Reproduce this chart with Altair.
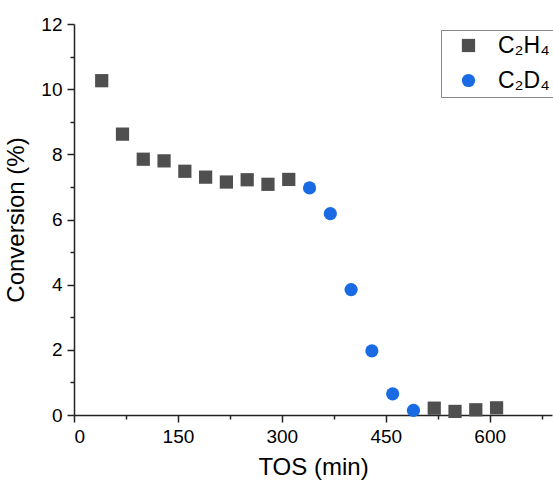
import altair as alt
import pandas as pd

# data
h4_tos = [40, 70, 100, 130, 160, 190, 220, 250, 280, 310, 520, 550, 580, 610]
h4_conv = [10.26, 8.62, 7.85, 7.80, 7.48, 7.30, 7.15, 7.22, 7.08, 7.23, 0.21, 0.11, 0.16, 0.22]
d4_tos = [340, 370, 400, 430, 460, 490]
d4_conv = [6.97, 6.18, 3.85, 1.97, 0.65, 0.14]
series_names = ["C₂H₄", "C₂D₄"]
x_ticks = list(range(0, 700, 75))
y_ticks = list(range(0, 13))

df = pd.DataFrame({
    "TOS": h4_tos + d4_tos,
    "Conversion": h4_conv + d4_conv,
    "Series": [series_names[0]] * len(h4_tos) + [series_names[1]] * len(d4_tos),
})

FONT = "Liberation Sans"

chart = alt.Chart(df).mark_point(filled=True, opacity=1, size=175, strokeWidth=0).encode(
    x=alt.X("TOS:Q", title="TOS (min)",
            scale=alt.Scale(domain=[0, 690], nice=False, zero=False),
            axis=alt.Axis(values=x_ticks,
                          labelExpr="datum.value % 150 === 0 ? datum.label : ''",
                          tickSize={"condition": {"test": "datum.value % 150 === 0", "value": 7}, "value": 4},
                          labelPadding=5, titlePadding=9)),
    y=alt.Y("Conversion:Q", title="Conversion (%)",
            scale=alt.Scale(domain=[0, 12], nice=False),
            axis=alt.Axis(values=y_ticks,
                          labelExpr="datum.value % 2 === 0 ? datum.label : ''",
                          tickSize={"condition": {"test": "datum.value % 2 === 0", "value": 7}, "value": 4},
                          labelPadding=5, titlePadding=12)),
    color=alt.Color("Series:N", scale=alt.Scale(domain=series_names, range=["#4f4f4f", "#1a6be3"]),
                    legend=alt.Legend(title=None, orient="none", legendX=367, legendY=6,
                                      strokeColor="#888888", padding=4, fillColor="white",
                                      labelFontSize=23, labelFont=FONT, labelColor="black",
                                      symbolSize=175, symbolStrokeWidth=0, rowPadding=11,
                                      labelOffset=18, symbolOffset=12)),
    shape=alt.Shape("Series:N", scale=alt.Scale(domain=series_names, range=["square", "circle"])),
).properties(
    width=478, height=391,
    padding={"left": 74, "top": 24, "right": 1, "bottom": 71},
    autosize="none",
).configure_view(stroke=None).configure_axis(
    grid=False,
    domainColor="#222222", domainWidth=1.5,
    tickColor="#222222", tickWidth=1.5,
    labelFont=FONT, labelFontSize=19, labelColor="black",
    titleFont=FONT, titleFontSize=24, titleFontWeight="normal", titleColor="black",
)

chart.save("out.html", embed_options={"renderer": "svg", "actions": False})
